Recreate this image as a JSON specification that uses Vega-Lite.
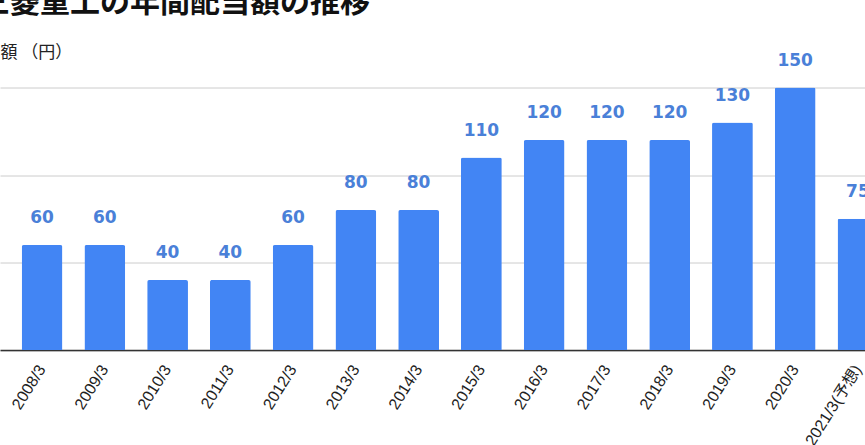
{
  "$schema": "https://vega.github.io/schema/vega-lite/v6.json",
  "width": 900,
  "height": 262.5,
  "autosize": {"type": "none"},
  "padding": {"left": 0, "top": 87.5, "right": 0, "bottom": 95},
  "background": "white",
  "title": {
    "text": "三菱重工の年間配当額の推移",
    "anchor": "start",
    "frame": "group",
    "font": "Noto Sans CJK JP",
    "fontSize": 30,
    "fontWeight": "bold",
    "color": "#111111",
    "dx": -20,
    "dy": -21
  },
  "data": {
    "values": [
      {"year": "2008/3", "dividend": 60},
      {"year": "2009/3", "dividend": 60},
      {"year": "2010/3", "dividend": 40},
      {"year": "2011/3", "dividend": 40},
      {"year": "2012/3", "dividend": 60},
      {"year": "2013/3", "dividend": 80},
      {"year": "2014/3", "dividend": 80},
      {"year": "2015/3", "dividend": 110},
      {"year": "2016/3", "dividend": 120},
      {"year": "2017/3", "dividend": 120},
      {"year": "2018/3", "dividend": 120},
      {"year": "2019/3", "dividend": 130},
      {"year": "2020/3", "dividend": 150},
      {"year": "2021/3(予想)", "dividend": 75}
    ]
  },
  "encoding": {
    "x": {
      "field": "year",
      "type": "nominal",
      "sort": null,
      "title": null,
      "scale": {"paddingInner": 0.35, "paddingOuter": 0.345},
      "axis": {
        "labelAngle": -58,
        "labelAlign": "right",
        "labelBaseline": "middle",
        "labelFont": "Liberation Sans, Noto Sans CJK JP",
        "labelFontSize": 16,
        "labelColor": "#222222",
        "labelPadding": 16,
        "labelDx": 3,
        "labelOverlap": false,
        "ticks": false,
        "domainColor": "#333333",
        "domainWidth": 1.5
      }
    },
    "y": {
      "field": "dividend",
      "type": "quantitative",
      "title": "配当額 （円）",
      "scale": {"domain": [0, 150], "nice": false},
      "axis": {
        "values": [0, 50, 100, 150],
        "labels": false,
        "ticks": false,
        "domain": false,
        "gridColor": "#cccccc",
        "titleAngle": 0,
        "titleAlign": "left",
        "titleBaseline": "alphabetic",
        "titleX": -34,
        "titleY": -30.5,
        "titleFont": "Noto Sans CJK JP",
        "titleFontSize": 17,
        "titleFontWeight": "normal",
        "titleColor": "#222222"
      }
    }
  },
  "layer": [
    {
      "mark": {
        "type": "bar",
        "color": "#4285f4",
        "cornerRadiusTopLeft": 2,
        "cornerRadiusTopRight": 2
      }
    },
    {
      "mark": {
        "type": "text",
        "font": "DejaVu Sans",
        "fontSize": 17,
        "fontWeight": "bold",
        "color": "#4a80d8",
        "baseline": "alphabetic",
        "dy": -22
      },
      "encoding": {"text": {"field": "dividend", "type": "quantitative"}}
    }
  ],
  "config": {"view": {"stroke": null}}
}
